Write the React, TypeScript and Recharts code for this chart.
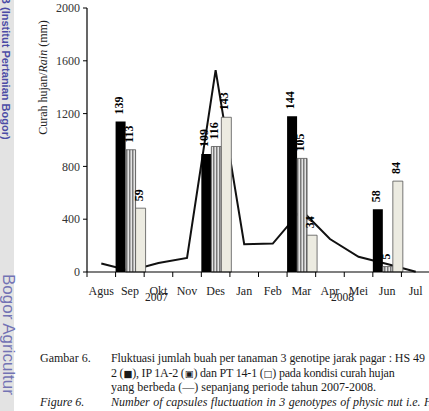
import React from "react";
import {
  ComposedChart,
  Bar,
  Line,
  XAxis,
  YAxis,
  LabelList,
} from "recharts";

// bulan pengamatan Agustus 2007 - Juli 2008
const months = ["Agus", "Sep", "Okt", "Nov", "Des", "Jan", "Feb", "Mar", "Apr", "Mei", "Jun", "Jul"];
// curah hujan (mm)
const rainfall = [65, 10, 68, 106, 1530, 210, 215, 470, 250, 115, 60, 2];
// jumlah buah per tanaman
const hs49 = [null, 139, null, null, 109, null, null, 144, null, null, 58, null];
const ip1a2 = [null, 113, null, null, 116, null, null, 105, null, null, 5, null];
const pt141 = [null, 59, null, null, 143, null, null, 34, null, null, 84, null];
const rainTicks = [0, 400, 800, 1200, 1600, 2000];

const data = months.map((month, i) => ({
  month,
  rain: rainfall[i],
  hs49: hs49[i],
  ip: ip1a2[i],
  pt: pt141[i],
}));

const serif = '"Liberation Serif", "Times New Roman", serif';
const sans = '"Liberation Sans", Arial, sans-serif';

const MonthTick = (props: any) => {
  const { x, y, payload } = props;
  const off = payload?.offset ?? 14.3;
  return (
    <g>
      <line x1={x - off} x2={x - off} y1={y - 14} y2={y - 9} stroke="#000" strokeWidth={1} />
      <text x={x} y={y} dy="0.71em" textAnchor="middle" fontSize={12} fontFamily={serif} fill="#222">
        {payload.value}
      </text>
    </g>
  );
};

const renderCount = (props: any) => {
  const { x, y, width, value } = props;
  if (value === null || value === undefined) return null;
  const cx = x + width / 2 - 2;
  const ty = y - 7;
  return (
    <text
      x={cx}
      y={ty}
      transform={`rotate(-90 ${cx} ${ty})`}
      textAnchor="start"
      dominantBaseline="central"
      fontSize={12}
      fontWeight="bold"
      fontFamily={serif}
      fill="#000"
    >
      {value}
    </text>
  );
};

const Glyph = ({ c }: { c: string }) => (
  <span style={{ fontFamily: '"DejaVu Sans", sans-serif', fontSize: 9.5 }}>{c}</span>
);

export default function App() {
  const captionLine = (top: number, text: React.ReactNode, extra: React.CSSProperties = {}) => (
    <div
      style={{
        position: "absolute",
        left: 111,
        top,
        fontSize: 12,
        whiteSpace: "nowrap",
        color: "#1a1a1a",
        ...extra,
      }}
    >
      {text}
    </div>
  );

  return (
    <div
      style={{
        position: "fixed",
        left: 0,
        top: 0,
        width: 429,
        height: 411,
        overflow: "hidden",
        background: "#fff",
        fontFamily: serif,
      }}
    >
      <div style={{ position: "absolute", left: 0, top: 0, width: 14, height: 411, background: "#e3e3e3" }} />
      <div
        style={{
          position: "absolute",
          left: 0,
          top: -4,
          writingMode: "vertical-rl",
          fontFamily: sans,
          fontWeight: "bold",
          fontSize: 11,
          color: "#4b4ba6",
          whiteSpace: "nowrap",
        }}
      >
        B (Institut Pertanian Bogor)
      </div>
      <div
        style={{
          position: "absolute",
          left: -2,
          top: 274,
          writingMode: "vertical-rl",
          fontFamily: sans,
          fontSize: 17,
          color: "#7373b4",
          whiteSpace: "nowrap",
        }}
      >
        Bogor Agricultur
      </div>

      <div style={{ position: "absolute", left: 0, top: 0 }}>
        <ComposedChart
          width={440}
          height={300}
          data={data}
          margin={{ top: 8, right: 10, bottom: 0, left: 0 }}
          barCategoryGap={0}
          barGap={0}
        >
          <defs>
            <pattern id="stripes" width="3" height="10" patternUnits="userSpaceOnUse">
              <rect width="3" height="10" fill="#e4e4e4" />
              <rect width="1.5" height="10" fill="#7a7a7a" />
            </pattern>
          </defs>
          <XAxis
            dataKey="month"
            interval={0}
            height={28}
            tickSize={5}
            tickMargin={9}
            tickLine={false}
            axisLine={{ stroke: "#000", strokeWidth: 1.2 }}
            tick={<MonthTick />}
          />
          <YAxis
            yAxisId="left"
            domain={[0, 2000]}
            ticks={rainTicks}
            width={87}
            tickSize={4}
            tickMargin={3}
            axisLine={{ stroke: "#000", strokeWidth: 1.2 }}
            tickLine={{ stroke: "#000" }}
            tick={{ fontSize: 12, fontFamily: serif, fill: "#333" }}
          />
          <YAxis yAxisId="right" orientation="right" hide domain={[0, 244]} />
          <Line
            yAxisId="left"
            dataKey="rain"
            type="linear"
            stroke="#111"
            strokeWidth={2}
            dot={false}
            zIndex={250}
            isAnimationActive={false}
          />
          <Bar yAxisId="right" dataKey="hs49" fill="#000" isAnimationActive={false}>
            <LabelList dataKey="hs49" content={renderCount} />
          </Bar>
          <Bar yAxisId="right" dataKey="ip" fill="url(#stripes)" stroke="#555" strokeWidth={0.8} isAnimationActive={false}>
            <LabelList dataKey="ip" content={renderCount} />
          </Bar>
          <Bar yAxisId="right" dataKey="pt" fill="#ecebe1" stroke="#555" strokeWidth={0.8} isAnimationActive={false}>
            <LabelList dataKey="pt" content={renderCount} />
          </Bar>
        </ComposedChart>
      </div>

      <div
        style={{
          position: "absolute",
          left: -22,
          top: 70,
          width: 130,
          textAlign: "center",
          fontSize: 12,
          color: "#222",
          whiteSpace: "nowrap",
          transform: "rotate(-90deg)",
        }}
      >
        Curah hujan/<i>Rain</i> (mm)
      </div>

      <div style={{ position: "absolute", left: 145, top: 291, fontSize: 11.5, color: "#222" }}>2007</div>
      <div style={{ position: "absolute", left: 331, top: 291, fontSize: 11.5, color: "#222" }}>2008</div>

      <div style={{ position: "absolute", left: 40, top: 351, fontSize: 12, color: "#1a1a1a" }}>Gambar 6.</div>
      {captionLine(351, "Fluktuasi jumlah buah per tanaman 3 genotipe jarak pagar : HS 49", { letterSpacing: -0.08 })}
      {captionLine(
        366,
        <>
          2 (<Glyph c="■" />), IP 1A-2 (<Glyph c="▣" />) dan PT 14-1 (<Glyph c="□" />) pada kondisi curah hujan
        </>,
        { letterSpacing: -0.2 }
      )}
      {captionLine(380, "yang berbeda (—) sepanjang periode tahun 2007-2008.")}
      <div style={{ position: "absolute", left: 40, top: 395, fontSize: 12, fontStyle: "italic", color: "#1a1a1a" }}>
        Figure 6.
      </div>
      {captionLine(395, "Number of capsules fluctuation in 3 genotypes of physic nut i.e. HS 49", {
        fontStyle: "italic",
        wordSpacing: 0.5,
      })}
    </div>
  );
}
